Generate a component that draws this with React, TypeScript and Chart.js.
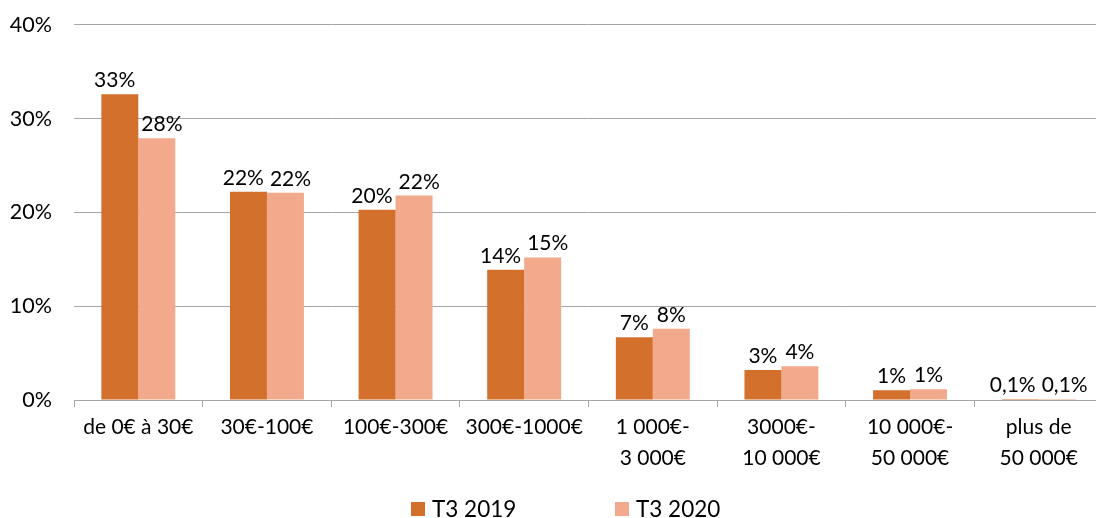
import React, { useEffect, useRef } from "react";
import { Chart, registerables } from "chart.js";

Chart.register(...registerables);

const categories: (string | string[])[] = [
  "de 0€ à 30€",
  "30€-100€",
  "100€-300€",
  "300€-1000€",
  ["1 000€-", "3 000€"],
  ["3000€-", "10 000€"],
  ["10 000€-", "50 000€"],
  ["plus de", "50 000€"],
];
const series2019 = [32.6, 22.2, 20.3, 13.9, 6.7, 3.2, 1.05, 0.1];
const series2020 = [27.9, 22.1, 21.8, 15.2, 7.6, 3.6, 1.15, 0.1];
const labels2019 = ["33%", "22%", "20%", "14%", "7%", "3%", "1%", "0,1%"];
const labels2020 = ["28%", "22%", "22%", "15%", "8%", "4%", "1%", "0,1%"];
const yTicks = [0, 10, 20, 30, 40];
const seriesNames = ["T3 2019", "T3 2020"];

const FONT = "Lato, 'Open Sans', sans-serif";
const COLORS = ["#D2702C", "#F2A98C"];
const SHIFT = 10;

const valueLabelPlugin = {
  id: "valueLabels",
  afterDatasetsDraw(chart: any) {
    const ctx = chart.ctx;
    const allLabels = [labels2019, labels2020];
    ctx.save();
    ctx.font = `21px ${FONT}`;
    ctx.fillStyle = "#000";
    ctx.textAlign = "center";
    ctx.textBaseline = "alphabetic";
    const m0 = chart.getDatasetMeta(0);
    const m1 = chart.getDatasetMeta(1);
    const n = chart.data.labels.length;
    for (let i = 0; i < n; i++) {
      const b0 = m0.data[i];
      const b1 = m1.data[i];
      const t0 = allLabels[0][i];
      const t1 = allLabels[1][i];
      const w0 = ctx.measureText(t0).width;
      const w1 = ctx.measureText(t1).width;
      let x0 = b0.x;
      let x1 = b1.x;
      const gap = 6;
      const overlap = x0 + w0 / 2 + gap - (x1 - w1 / 2);
      if (overlap > 0) {
        x0 -= overlap / 2;
        x1 += overlap / 2;
      }
      ctx.fillText(t0, x0, b0.y - 7);
      ctx.fillText(t1, x1, b1.y - 7);
    }
    ctx.restore();
  },
};

const legendPlugin = {
  id: "customLegend",
  afterDraw(chart: any) {
    const ctx = chart.ctx;
    const xs = [411, 615];
    ctx.save();
    ctx.font = `22.5px ${FONT}`;
    ctx.textBaseline = "middle";
    ctx.textAlign = "left";
    chart.data.datasets.forEach((ds: any, di: number) => {
      ctx.fillStyle = ds.backgroundColor;
      ctx.fillRect(xs[di], 502 + SHIFT, 14, 14);
      ctx.fillStyle = "#000";
      ctx.fillText(ds.label, xs[di] + 21, 510 + SHIFT);
    });
    ctx.restore();
  },
};

export default function App() {
  const ref = useRef<HTMLCanvasElement | null>(null);
  useEffect(() => {
    if (!ref.current) return;
    const chart = new Chart(ref.current, {
      type: "bar",
      data: {
        labels: categories,
        datasets: [
          {
            label: seriesNames[0],
            data: series2019,
            backgroundColor: COLORS[0],
            categoryPercentage: 0.575,
            barPercentage: 1,
          },
          {
            label: seriesNames[1],
            data: series2020,
            backgroundColor: COLORS[1],
            categoryPercentage: 0.575,
            barPercentage: 1,
          },
        ],
      },
      options: {
        animation: false,
        responsive: false,
        maintainAspectRatio: false,
        layout: { padding: { top: 3, bottom: 38, left: 0, right: 0 } },
        plugins: {
          legend: { display: false },
          tooltip: { enabled: false },
        },
        scales: {
          x: {
            grid: {
              display: true,
              drawOnChartArea: false,
              drawTicks: true,
              tickLength: 7,
              color: "#A6A6A6",
              offset: true,
            },
            border: { display: true, color: "#A6A6A6", width: 1 },
            ticks: {
              color: "#000",
              font: { family: FONT, size: 21, lineHeight: 1.5 },
              padding: 4,
              maxRotation: 0,
              autoSkip: false,
            },
            afterFit(scale: any) {
              scale.height = 80;
            },
          },
          y: {
            min: 0,
            max: 40,
            afterBuildTicks(scale: any) {
              scale.ticks = yTicks.map((v) => ({ value: v }));
            },
            grid: {
              color: "#A6A6A6",
              drawTicks: false,
              lineWidth: 1,
            },
            border: { display: false },
            ticks: {
              color: "#000",
              font: { family: FONT, size: 21.5 },
              padding: 22,
              callback: (v: any) => `${v}%`,
            },
            afterFit(scale: any) {
              scale.width = 74;
            },
          },
        },
      },
      plugins: [valueLabelPlugin, legendPlugin],
    });
    return () => chart.destroy();
  }, []);
  return (
    <div
      style={{
        position: "fixed",
        left: 0,
        top: 0,
        width: 1096,
        height: 518,
        overflow: "hidden",
        background: "#fff",
      }}
    >
      <canvas
        ref={ref}
        width={1103}
        height={518 + SHIFT}
        style={{ display: "block", marginTop: -SHIFT }}
      />
    </div>
  );
}
